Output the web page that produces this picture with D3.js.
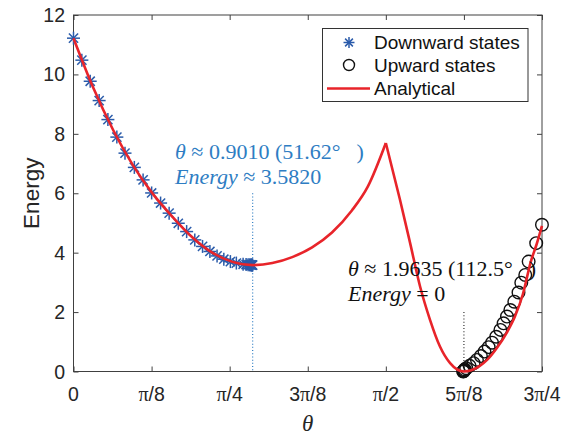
<!DOCTYPE html>
<html><head><meta charset="utf-8">
<script src="https://cdn.jsdelivr.net/npm/d3@7"></script>
<style>body{margin:0;background:#fff}svg{display:block}</style>
</head><body>
<svg id="c" width="566" height="436"></svg>
<script>
// ---- data ----
const xTickMultiples = [0, 1, 2, 3, 4, 5, 6]; // multiples of pi/8
const xTickLabels = ["0", "π/8", "π/4", "3π/8", "π/2", "5π/8", "3π/4"];
const yTicks = [0, 2, 4, 6, 8, 10, 12];

const downTheta = [0, 0.042, 0.084, 0.129, 0.173, 0.218, 0.259, 0.306, 0.350, 0.393, 0.438, 0.481, 0.527, 0.569, 0.610, 0.649, 0.686, 0.722, 0.756, 0.789, 0.819, 0.853, 0.868, 0.878, 0.885, 0.890, 0.894, 0.897, 0.899, 0.901];
const downEnergy = [11.22, 10.48, 9.77, 9.12, 8.48, 7.89, 7.35, 6.87, 6.45, 6.01, 5.67, 5.33, 4.99, 4.71, 4.43, 4.21, 4.04, 3.89, 3.78, 3.70, 3.65, 3.61, 3.60, 3.595, 3.59, 3.588, 3.585, 3.584, 3.583, 3.582];

const upTheta = [2.356, 2.327, 2.289, 2.272, 2.252, 2.238, 2.217, 2.197, 2.180, 2.163, 2.147, 2.126, 2.105, 2.088, 2.067, 2.049, 2.029, 2.012, 1.992, 1.975, 1.968, 1.965, 1.963, 1.961, 1.960];
const upEnergy = [4.94, 4.32, 3.70, 3.25, 2.99, 2.66, 2.35, 2.07, 1.85, 1.62, 1.40, 1.17, 0.97, 0.82, 0.67, 0.52, 0.39, 0.28, 0.19, 0.11, 0.07, 0.04, 0.02, 0.01, 0.0];

const anaThetaA = [0, 0.1, 0.2, 0.3, 0.4, 0.5, 0.6, 0.7, 0.8, 0.901, 1.0, 1.1, 1.2, 1.3, 1.4, 1.48, 1.5708];
const anaEnergyA = [11.22, 9.54, 8.12, 6.93, 5.97, 5.19, 4.50, 3.99, 3.69, 3.582, 3.65, 3.85, 4.18, 4.68, 5.42, 6.22, 7.69];
const anaThetaB = [1.5708, 1.642, 1.693, 1.743, 1.793, 1.843, 1.894, 1.9635, 2.0, 2.04, 2.08, 2.13, 2.18, 2.22, 2.26, 2.30, 2.33, 2.356];
const anaEnergyB = [7.69, 5.78, 4.32, 2.86, 1.74, 0.84, 0.28, 0, 0.04, 0.17, 0.39, 0.80, 1.32, 1.85, 2.6, 3.7, 4.3, 4.9];

const minDown = {theta: 0.9010, energy: 3.5820, lineTop: 6.0};
const minUp = {theta: 1.9635, energy: 0, lineTop: 2.0};

// ---- layout ----
const L = 73.5, R = 542, T = 15, B = 371.5;
const svg = d3.select("#c");
const x = d3.scaleLinear().domain([0, 3 * Math.PI / 4]).range([L, R]);
const y = d3.scaleLinear().domain([0, 12]).range([B, T]);
const axisCol = "#404040", textCol = "#262626";
const sans = "'Liberation Sans', Arial, Helvetica, sans-serif";
const serif = "'Liberation Serif', 'Times New Roman', serif";
const blue = "#2E7DC3", starCol = "#2A5BAA", red = "#E8242A";

// axes box + ticks
const xt = xTickMultiples.map(m => m * Math.PI / 8);
const g = svg.append("g");
const styleAxis = s => { s.select(".domain").remove(); s.selectAll("line").attr("stroke", axisCol); };
g.append("g").attr("transform", `translate(0,${B})`)
  .call(d3.axisBottom(x).tickValues(xt).tickSize(-5).tickFormat("")).call(styleAxis);
g.append("g").attr("transform", `translate(0,${T})`)
  .call(d3.axisTop(x).tickValues(xt).tickSize(-5).tickFormat("")).call(styleAxis);
g.append("g").attr("transform", `translate(${L},0)`)
  .call(d3.axisLeft(y).tickValues(yTicks).tickSize(-5).tickFormat("")).call(styleAxis);
g.append("g").attr("transform", `translate(${R},0)`)
  .call(d3.axisRight(y).tickValues(yTicks).tickSize(-5).tickFormat("")).call(styleAxis);
g.append("rect").attr("x", L).attr("y", T).attr("width", R - L).attr("height", B - T)
  .attr("fill", "none").attr("stroke", axisCol).attr("stroke-width", 1);

// tick labels
svg.append("g").selectAll("text").data(yTicks).join("text")
  .attr("x", 65).attr("y", d => y(d)).attr("dy", "0.36em")
  .attr("text-anchor", "end").attr("font-family", sans).attr("font-size", 19.5)
  .attr("fill", textCol).text(d => d);
const xl = svg.append("g").selectAll("text").data(xTickLabels).join("text")
  .attr("x", (d, i) => x(xt[i])).attr("y", 401)
  .attr("text-anchor", "middle").attr("font-family", sans).attr("font-size", 19.5)
  .attr("fill", textCol);
xl.each(function(d) {
  const t = d3.select(this);
  const parts = d.split("π");
  if (parts.length === 1) { t.text(d); return; }
  if (parts[0]) t.append("tspan").text(parts[0]);
  t.append("tspan").attr("font-family", serif).attr("font-size", 20).text("π");
  t.append("tspan").text(parts[1]);
});

// axis labels
svg.append("text").attr("transform", `translate(39,${(T + B) / 2}) rotate(-90)`)
  .attr("text-anchor", "middle").attr("font-family", sans).attr("font-size", 22.5)
  .attr("fill", textCol).text("Energy");
svg.append("text").attr("x", (L + R) / 2).attr("y", 431).attr("text-anchor", "middle")
  .attr("font-family", serif).attr("font-style", "italic").attr("font-size", 23)
  .attr("fill", textCol).text("θ");

// dotted guide lines
svg.append("line").attr("x1", x(minDown.theta)).attr("x2", x(minDown.theta))
  .attr("y1", y(minDown.lineTop)).attr("y2", y(0))
  .attr("stroke", blue).attr("stroke-width", 1.2).attr("stroke-dasharray", "1,2.2");
svg.append("line").attr("x1", x(minUp.theta)).attr("x2", x(minUp.theta))
  .attr("y1", y(minUp.lineTop)).attr("y2", y(0))
  .attr("stroke", "#333").attr("stroke-width", 1.2).attr("stroke-dasharray", "1,2.2");

// star markers
function star(sel, cx, cy, r, col) {
  const gg = sel.append("g").attr("stroke", col).attr("stroke-width", 1.5);
  for (let k = 0; k < 4; k++) {
    const a = k * Math.PI / 4;
    gg.append("line").attr("x1", cx - r * Math.cos(a)).attr("y1", cy - r * Math.sin(a))
      .attr("x2", cx + r * Math.cos(a)).attr("y2", cy + r * Math.sin(a));
  }
}
const stars = svg.append("g");
downTheta.forEach((t, i) => star(stars, x(t), y(downEnergy[i]), 6.5, starCol));

// circles
svg.append("g").selectAll("circle").data(upTheta).join("circle")
  .attr("cx", d => x(d)).attr("cy", (d, i) => y(upEnergy[i])).attr("r", 6.3)
  .attr("fill", "none").attr("stroke", "#111").attr("stroke-width", 1.4);

// analytical curve
const line = d3.line().x(d => x(d[0])).y(d => y(d[1])).curve(d3.curveMonotoneX);
[[anaThetaA, anaEnergyA], [anaThetaB, anaEnergyB]].forEach(([ts, es]) => {
  svg.append("path").attr("d", line(ts.map((t, i) => [t, es[i]])))
    .attr("fill", "none").attr("stroke", red).attr("stroke-width", 2.6)
    .attr("stroke-linejoin", "miter");
});

// annotations
function annot(xp, yp, col, l1num, l1deg, l2op, l2num) {
  const t1 = svg.append("text").attr("x", xp).attr("y", yp).attr("font-family", serif)
    .attr("font-size", 22).attr("fill", col);
  t1.append("tspan").attr("font-style", "italic").text("θ");
  t1.append("tspan").text(" ≈ " + l1num + " (" + l1deg + "°");
  t1.append("tspan").attr("dx", 16).text(")");
  const t2 = svg.append("text").attr("x", xp).attr("y", yp + 25).attr("font-family", serif)
    .attr("font-size", 22).attr("fill", col);
  t2.append("tspan").attr("font-style", "italic").text("Energy");
  t2.append("tspan").text(l2op + l2num);
}
annot(175, 159, blue, "0.9010", "51.62", " ≈ ", "3.5820");
annot(348, 276, "#111", "1.9635", "112.5", " = ", "0");

// legend
const lg = svg.append("g");
lg.append("rect").attr("x", 322.5).attr("y", 28.5).attr("width", 205.5).attr("height", 73)
  .attr("fill", "#fff").attr("stroke", "#333").attr("stroke-width", 1);
star(lg, 349, 42.5, 5.5, starCol);
lg.append("circle").attr("cx", 349).attr("cy", 65).attr("r", 5.5).attr("fill", "none")
  .attr("stroke", "#111").attr("stroke-width", 1.4);
lg.append("line").attr("x1", 327).attr("x2", 370).attr("y1", 88.5).attr("y2", 88.5)
  .attr("stroke", red).attr("stroke-width", 2.6);
["Downward states", "Upward states", "Analytical"].forEach((s, i) => {
  lg.append("text").attr("x", 374).attr("y", [42.5, 65, 88.5][i]).attr("dy", "0.36em")
    .attr("font-family", sans).attr("font-size", 19).attr("fill", "#111").text(s);
});
</script>
</body></html>
